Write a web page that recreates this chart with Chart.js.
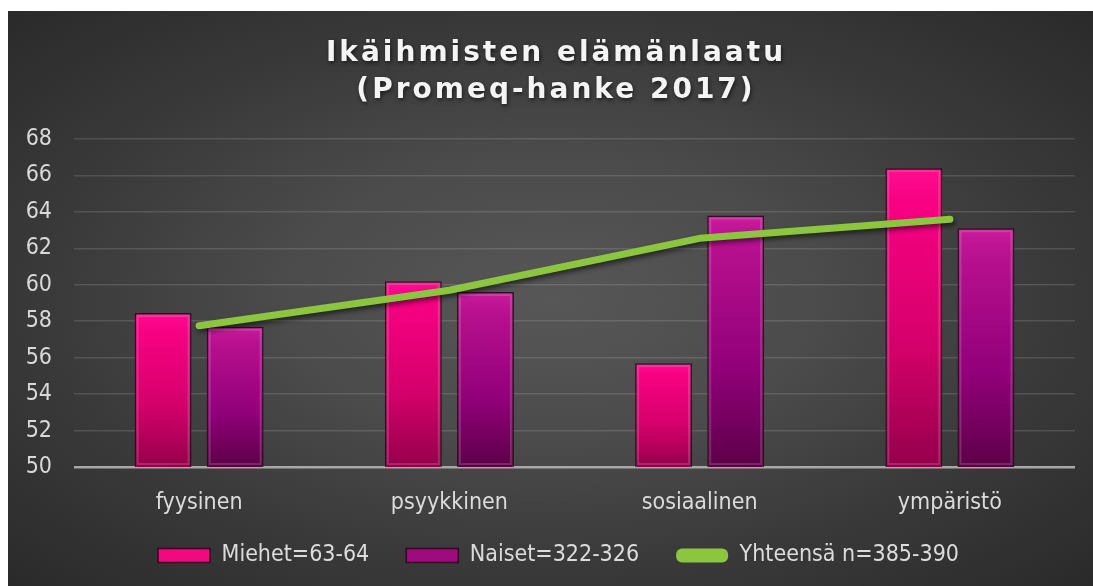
<!DOCTYPE html>
<html>
<head>
<meta charset="utf-8">
<script src="https://cdn.jsdelivr.net/npm/chart.js@4/dist/chart.umd.min.js"></script>
<style>
  html, body { margin: 0; padding: 0; background: #ffffff; }
  #panel {
    position: absolute; left: 8px; top: 11px; width: 1085px; height: 575px;
    background: radial-gradient(ellipse farthest-corner at 50% 50%, #575757 0%, #4b4b4b 35%, #3a3a3a 65%, #2a2a2a 100%);
  }
  canvas { display: block; }
</style>
</head>
<body>
<div id="panel"><canvas id="c" width="1085" height="575"></canvas></div>
<script>
// ---- data ----
const titleLines = ['Ikäihmisten elämänlaatu', '(Promeq-hanke 2017)'];
const categories = ['fyysinen', 'psyykkinen', 'sosiaalinen', 'ympäristö'];
const miehet = [58.45, 60.2, 55.7, 66.4];
const naiset = [57.7, 59.6, 63.8, 63.1];
const yhteensa = [57.75, 59.7, 62.55, 63.6];
const seriesNames = ['Miehet=63-64', 'Naiset=322-326', 'Yhteensä n=385-390'];
const yMin = 50, yMax = 68, yStep = 2;

const FONT = '"DejaVu Sans Condensed", "DejaVu Sans", sans-serif';

function barGradient(stops, fallback) {
  return (c) => {
    const chart = c.chart;
    if (!chart.chartArea || c.raw == null || !chart.scales.y) return fallback;
    const y = chart.scales.y;
    const top = y.getPixelForValue(c.raw);
    const bot = y.getPixelForValue(y.min);
    const g = chart.ctx.createLinearGradient(0, top, 0, bot);
    stops.forEach(s => g.addColorStop(s[0], s[1]));
    return g;
  };
}

const effectsPlugin = {
  id: 'effects',
  beforeDatasetDraw(chart, args) {
    if (args.meta.type === 'line') {
      const ctx = chart.ctx;
      ctx.save();
      ctx.shadowColor = 'rgba(0,0,0,0.55)';
      ctx.shadowBlur = 5;
      ctx.shadowOffsetX = 2;
      ctx.shadowOffsetY = 3;
    }
  },
  afterDatasetDraw(chart, args) {
    const ctx = chart.ctx;
    if (args.meta.type === 'line') { ctx.restore(); return; }
    const ys = chart.scales.y;
    const values = chart.data.datasets[args.index].data;
    const bot = ys.getPixelForValue(ys.min);
    ctx.save();
    args.meta.data.forEach((el, i) => {
      const w = el.width, x0 = el.x - w / 2;
      const top = ys.getPixelForValue(values[i]);
      const h = bot - top;
      ctx.strokeStyle = 'rgba(255,255,255,0.16)';
      ctx.lineWidth = 2;
      ctx.strokeRect(x0 + 3, top + 3, w - 6, h - 6);
    });
    ctx.restore();
  },
  afterLayout(chart) {
    const lg = chart.legend;
    lg.left += 17; lg.right += 17;
    lg.top -= 33; lg.bottom -= 33;
  },
  afterDraw(chart) {
    const ctx = chart.ctx;
    ctx.save();
    ctx.font = 'bold 28px "DejaVu Sans", sans-serif';
    ctx.letterSpacing = '3px';
    ctx.textAlign = 'center';
    ctx.textBaseline = 'middle';
    ctx.fillStyle = '#f4f4f4';
    ctx.shadowColor = 'rgba(0,0,0,0.6)';
    ctx.shadowBlur = 4;
    ctx.shadowOffsetX = 1;
    ctx.shadowOffsetY = 2;
    ctx.fillText(titleLines[0], 548, 43);
    ctx.fillText(titleLines[1], 548, 80);
    ctx.restore();
  }
};

new Chart(document.getElementById('c'), {
  type: 'bar',
  data: {
    labels: categories,
    datasets: [
      {
        label: seriesNames[0],
        data: miehet,
        order: 1,
        backgroundColor: barGradient([[0, '#ff0c8f'], [0.12, '#f70182'], [0.6, '#d4006a'], [1, '#94004a']], '#f0097f'),
        borderColor: 'rgba(45,5,25,0.85)',
        borderWidth: 1.5,
        categoryPercentage: 0.576,
        barPercentage: 0.79
      },
      {
        label: seriesNames[1],
        data: naiset,
        order: 1,
        backgroundColor: barGradient([[0, '#c81c9c'], [0.12, '#b8108e'], [0.6, '#92007a'], [1, '#5c0048']], '#9c0c7e'),
        borderColor: 'rgba(45,5,25,0.85)',
        borderWidth: 1.5,
        categoryPercentage: 0.576,
        barPercentage: 0.79
      },
      {
        type: 'line',
        label: seriesNames[2],
        data: yhteensa,
        order: 0,
        borderColor: '#8cc63f',
        backgroundColor: '#8cc63f',
        borderWidth: 7,
        borderCapStyle: 'round',
        borderJoinStyle: 'round',
        pointRadius: 0,
        tension: 0,
        fill: false
      }
    ]
  },
  options: {
    responsive: false,
    animation: false,
    layout: { padding: { top: 128, right: 18, bottom: -24, left: 0 } },
    scales: {
      x: {
        grid: { display: false, drawTicks: false },
        border: { display: false },
        ticks: { color: '#dcdcdc', font: { family: FONT, size: 23, lineHeight: 1 }, padding: 25 }
      },
      y: {
        min: yMin, max: yMax,
        grid: {
          drawTicks: false,
          color: (c) => c.tick && c.tick.value === yMin ? '#a8a8a8' : 'rgba(255,255,255,0.13)',
          lineWidth: (c) => c.tick && c.tick.value === yMin ? 2.5 : 1.5
        },
        border: { display: false },
        ticks: { stepSize: yStep, color: '#d9d9d9', font: { family: FONT, size: 23 }, padding: 22 },
        afterFit(s) { s.width = 66; }
      }
    },
    plugins: {
      title: { display: false },
      tooltip: { enabled: false },
      legend: {
        position: 'bottom',
        labels: {
          color: '#dcdcdc',
          font: { family: FONT, size: 23 },
          boxWidth: 52,
          boxHeight: 14,
          padding: 37,
          useBorderRadius: true,
          generateLabels(chart) {
            const items = Chart.defaults.plugins.legend.labels.generateLabels(chart);
            items.sort((a, b) => a.datasetIndex - b.datasetIndex);
            const fills = ['#f0097f', '#9c0c7e', '#8cc63f'];
            items.forEach((it) => {
              const i = it.datasetIndex;
              it.fillStyle = fills[i];
              if (i < 2) {
                it.strokeStyle = 'rgba(45,5,25,0.9)';
                it.lineWidth = 1.5;
                it.borderRadius = 0;
              } else {
                it.strokeStyle = '#8cc63f';
                it.lineWidth = 0;
                it.borderRadius = 6;
              }
            });
            return items;
          }
        }
      }
    }
  },
  plugins: [effectsPlugin]
});
</script>
</body>
</html>
